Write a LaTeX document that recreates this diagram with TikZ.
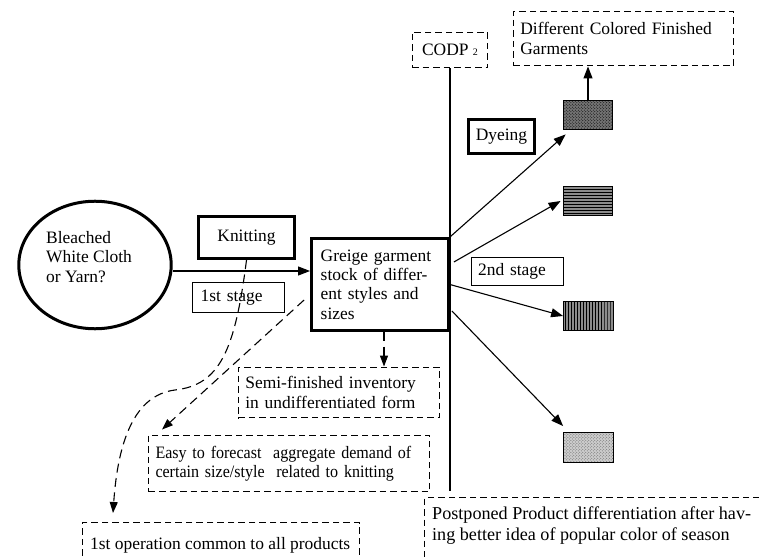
\documentclass[tikz,border=0pt]{standalone}
\usepackage{fontspec}
\setmainfont{Liberation Serif}
\newfontfamily\condserif[FakeStretch=0.92]{Liberation Serif}
\usetikzlibrary{arrows.meta,patterns,shapes.geometric,calc}

\begin{document}
\begin{tikzpicture}[x=1bp, y=-1bp, font=\fontsize{17.5}{19.5}\selectfont,
    thick_box/.style={draw, line width=3.4bp, inner sep=0pt},
    thin_box/.style={draw, line width=1bp, inner sep=0pt},
    dash_box/.style={draw, line width=1.1bp, dash pattern=on 6.5bp off 4bp, inner sep=0pt},
    pat_box/.style={draw, line width=1bp, minimum width=50, minimum height=30},
    txt/.style={align=left, inner sep=0pt},
    solid_arr/.style={line width=1.1bp, -{Triangle[length=12bp,width=9bp]}},
    dash_arr/.style={line width=1.1bp, dash pattern=on 9bp off 5.5bp, -{Triangle[length=11bp,width=8bp]}}]
        \useasboundingbox (0,0) rectangle (759,557);
        \clip (0,0) rectangle (759,557);
        \node[ellipse, draw, line width=3bp, minimum width=153, minimum height=128] (src) at (95,265) {};
        \node[txt, anchor=west] (src_txt) at (46,257) {Bleached\\White Cloth\\or Yarn?};
        \node[thick_box, minimum width=96, minimum height=42] (knit) at (246.5,237.5) {Knitting};
        \node[thin_box, minimum width=92, minimum height=30, inner xsep=8, text width=76, align=left] (stage_a) at (238.5,297.5) {1st stage};
        \node[thick_box, minimum width=137, minimum height=92, inner xsep=9, text width=119, align=left] (greige) at (380,284.5) {Greige garment\\stock of differ-\\ent styles and\\sizes};
        \node[dash_box, minimum width=202, minimum height=51, inner xsep=7, text width=188, align=left] (semi) at (339,392.5) {Semi-finished inventory\\in undifferentiated form};
        \node[dash_box, minimum width=282, minimum height=57, inner xsep=7, text width=268, align=left, font=\condserif\fontsize{17.5}{19.5}\selectfont] (easy) at (289,463.5) {Easy to forecast\ \ aggregate demand of\\certain size/style\ \ related to knitting};
        \node[dash_box, anchor=north west, minimum width=278, minimum height=60] (op_box) at (82,522) {};
        \node[txt, anchor=west] (op_txt) at (90,545) {1st operation common to all products};
        \node[dash_box, anchor=north west, minimum width=360, minimum height=80] (post) at (424,497) {};
        \node[txt, anchor=west, font=\fontsize{18.2}{21}\selectfont] (post_txt) at (432,526) {Postponed Product differentiation after hav-\\ing better idea of popular color of season};
        \node[dash_box, minimum width=76, minimum height=36] (codp) at (450,50) {CODP {\fontsize{10}{12}\selectfont 2}};
        \node[dash_box, minimum width=221, minimum height=55, inner xsep=7, text width=207, align=left] (garm) at (623.5,38.5) {Different Colored Finished\\Garments};
        \node[thick_box, minimum width=66, minimum height=34] (dye) at (501.5,136.5) {Dyeing};
        \node[thin_box, minimum width=93, minimum height=29, inner xsep=7, text width=79, align=left] (stage_b) at (517.5,271.5) {2nd stage};
        \node[pat_box, preaction={fill=black!55}, pattern=crosshatch dots] (pat_a) at (588,115) {};
        \node[pat_box, preaction={fill=black!45}, pattern=horizontal lines] (pat_b) at (588,201) {};
        \node[pat_box, preaction={fill=black!45}, pattern=vertical lines] (pat_c) at (588.5,316) {};
        \node[pat_box, preaction={fill=black!20}, pattern=crosshatch dots, pattern color=black!60] (pat_d) at (588.5,447.5) {};
        \draw[line width=1.2bp] (codp.south) -- ([yshift=6bp]codp.south |- post.north);
        \draw[solid_arr] ([yshift=-6bp]src.east) -- ([yshift=-6bp]src.east -| greige.west);
        \draw[solid_arr] (pat_a.north) -- (pat_a.north |- garm.south);
        \draw[solid_arr] (greige.north east) -- ([xshift=3bp,yshift=-4bp]pat_a.south west);
        \draw[solid_arr] ($(greige.north east)+(4,25)$) -- ([xshift=-2bp]pat_b.west);
        \draw[solid_arr] (greige.east) -- (pat_c.west);
        \draw[solid_arr] ($(greige.south east)+(2,-21)$) -- ([yshift=6bp]pat_d.north west);
        \draw[dash_arr] ([xshift=4bp]greige.south) -- ([xshift=4bp]greige.south |- semi.north);
        \draw[dash_arr] ($(greige.south west)+(-6,-32)$) -- ([xshift=14bp,yshift=5bp]easy.north west);
        \draw[dash_arr] (knit.south) .. controls (235,350) and (220,385) .. (175,390)
          .. controls (135,395) and (118,440) .. ([xshift=31bp,yshift=9bp]op_box.north west);
      \end{tikzpicture}
\end{document}
